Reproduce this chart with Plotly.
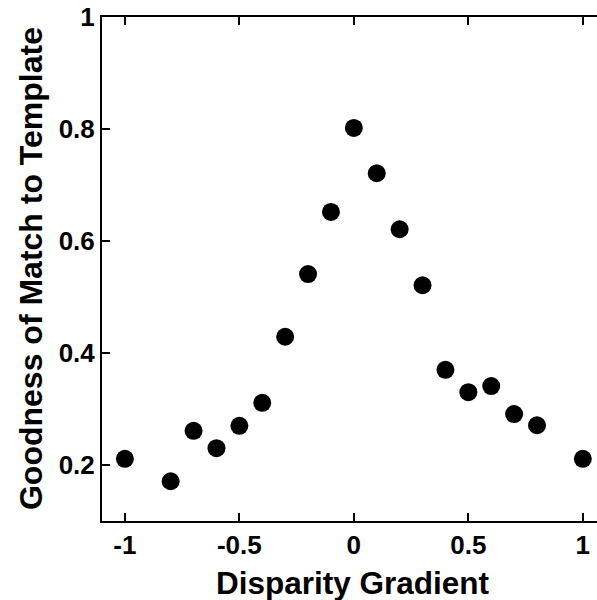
import plotly.graph_objects as go

disparity_gradient = [-1.0, -0.8, -0.7, -0.6, -0.5, -0.4, -0.3, -0.2, -0.1, 0.0,
                      0.1, 0.2, 0.3, 0.4, 0.5, 0.6, 0.7, 0.8, 1.0]
goodness = [0.211, 0.171, 0.261, 0.230, 0.270, 0.311, 0.429, 0.541, 0.652, 0.802,
            0.721, 0.621, 0.521, 0.370, 0.330, 0.341, 0.291, 0.271, 0.211]

x_ticks = [-1, -0.5, 0, 0.5, 1]
x_tick_labels = ["-1", "-0.5", "0", "0.5", "1"]
y_ticks = [0.2, 0.4, 0.6, 0.8, 1.0]
y_tick_labels = ["0.2", "0.4", "0.6", "0.8", "1"]
x_title = "Disparity Gradient"
y_title = "Goodness of Match to Template"

font_family = "Liberation Sans, Arial, sans-serif"

fig = go.Figure()
fig.add_trace(go.Scatter(
    x=disparity_gradient, y=goodness, mode="markers",
    marker=dict(size=18, color="black", line=dict(width=0)),
    showlegend=False, cliponaxis=False,
))

fig.update_layout(
    width=597, height=600,
    margin=dict(l=102, r=0, t=17, b=79),
    plot_bgcolor="white", paper_bgcolor="white",
    font=dict(family=font_family, color="black"),
    annotations=[
        dict(text="<b>%s</b>" % x_title, xref="paper", yref="paper",
             x=0.507, y=-0.124, xanchor="center", yanchor="middle",
             showarrow=False, font=dict(size=31.5, family=font_family)),
        dict(text="<b>%s</b>" % y_title, xref="paper", yref="paper",
             x=-0.1434, y=0.5, xanchor="center", yanchor="middle", textangle=-90,
             showarrow=False, font=dict(size=32, family=font_family)),
    ],
)
fig.update_xaxes(
    range=[-1.1, 1.062], tickvals=x_ticks, ticktext=x_tick_labels,
    automargin=False,
    showgrid=False, zeroline=False, showline=True, linecolor="black", linewidth=2,
    mirror="ticks", ticks="inside", ticklen=8, tickwidth=2, tickcolor="black",
    tickfont=dict(size=26, family=font_family, weight="bold"),
)
fig.update_yaxes(
    range=[0.1, 1.0], tickvals=y_ticks, ticktext=y_tick_labels,
    automargin=False,
    showgrid=False, zeroline=False, showline=True, linecolor="black", linewidth=2,
    ticks="inside", ticklen=8, tickwidth=2, tickcolor="black",
    tickfont=dict(size=26, family=font_family, weight="bold"),
)

fig.write_html("out.html", config={"displayModeBar": False},
               post_script="document.body.style.margin='0';")
